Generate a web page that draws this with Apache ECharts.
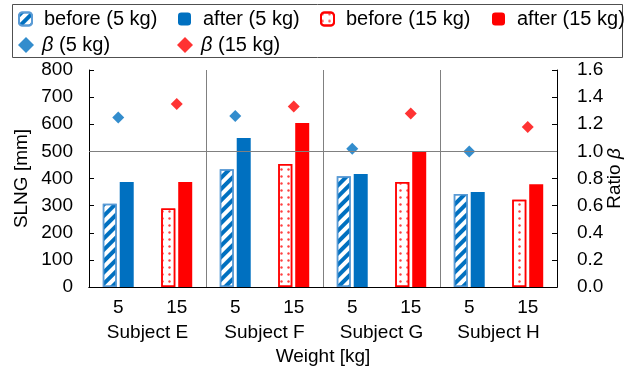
<!DOCTYPE html>
<html><head><meta charset="utf-8">
<script src="https://cdn.jsdelivr.net/npm/echarts@6/dist/echarts.min.js"></script>
<style>html,body{margin:0;padding:0;background:#fff}#c{width:625px;height:369px}</style>
</head><body><div id="c"></div>
<script>
const subjects = ['Subject E', 'Subject F', 'Subject G', 'Subject H'];
const weights = ['5', '15'];
const before5 = [307, 434, 408, 343];
const after5 = [387, 549, 417, 350];
const before15 = [289, 453, 387, 322];
const after15 = [387, 605, 498, 379];
const beta5 = [1.25, 1.26, 1.02, 1.00];
const beta15 = [1.35, 1.33, 1.28, 1.18];
const names = ['before (5 kg)', 'after (5 kg)', 'before (15 kg)', 'after (15 kg)', 'β (5 kg)', 'β (15 kg)'];

const cats = [];
subjects.forEach(s => weights.forEach(w => cats.push(s + '|' + w)));
function expand(arr, wi) {
  const out = [];
  arr.forEach(v => { weights.forEach((w, j) => out.push(j === wi ? v : null)); });
  return out;
}
const BLUE = '#0070c0', RED = '#ff0000', FONT = 'Liberation Sans';
const axisFont = { fontFamily: FONT, fontSize: 19, color: '#000' };

const chart = echarts.init(document.getElementById('c'), null, { renderer: 'canvas' });
function leg(name, left, top, iw, ih, pad) {
  return {
    data: [name], left: left, top: top, padding: 0, itemWidth: iw, itemHeight: ih, itemGap: 0,
    selectedMode: false,
    formatter: n => n.indexOf('β') === 0 ? '{i|β}' + n.slice(1) : n,
    textStyle: { fontFamily: FONT, fontSize: 20, color: '#000', padding: [0, 0, 0, pad],
      rich: { i: { fontFamily: FONT, fontSize: 20, fontStyle: 'italic', color: '#000' } } }
  };
}
chart.setOption({
  animation: false,
  graphic: [{ type: 'rect', shape: { x: 12.5, y: 4.5, width: 610, height: 53 },
    style: { fill: 'none', stroke: '#505050', lineWidth: 1 }, z: 0 }],
  legend: [
    leg(names[0], 18, 9, 13, 13, 7),
    leg(names[1], 178, 9, 13, 13, 7),
    leg(names[2], 320, 9, 13, 13, 7),
    leg(names[3], 492, 9, 13, 13, 7),
    leg(names[4], 18, 35, 16, 16, 3),
    leg(names[5], 177, 35, 16, 16, 3)
  ],
  grid: { left: 89, right: 68, top: 70, bottom: 82, containLabel: false, outerBoundsMode: 'none' },
  xAxis: [{
    type: 'category', data: cats, position: 'bottom',
    axisLine: { lineStyle: { color: '#000' } },
    axisTick: { length: 26, lineStyle: { color: '#000' } },
    axisLabel: Object.assign({ margin: 11, formatter: v => v.split('|')[1] }, axisFont),
    splitLine: { show: false }
  }, {
    type: 'category', data: subjects, position: 'bottom',
    axisLine: { lineStyle: { color: '#000' } },
    axisTick: { length: 52, lineStyle: { color: '#000' } },
    axisLabel: Object.assign({ margin: 36 }, axisFont),
    splitLine: { show: true, lineStyle: { color: '#808080', width: 1 } },
    name: 'Weight [kg]', nameLocation: 'middle', nameGap: 60, nameMoveOverlap: false,
    nameTextStyle: axisFont
  }],
  yAxis: [{
    type: 'value', min: 0, max: 800, interval: 100, position: 'left',
    axisLine: { show: true, lineStyle: { color: '#000' } },
    axisTick: { show: true, inside: true, length: 5, lineStyle: { color: '#000' } },
    axisLabel: Object.assign({ margin: 16 }, axisFont),
    splitLine: { show: false },
    name: 'SLNG [mm]', nameLocation: 'middle', nameGap: 58, nameMoveOverlap: false, nameTextStyle: axisFont
  }, {
    type: 'value', min: 0, max: 1.6, interval: 0.2, position: 'right',
    axisLine: { show: true, lineStyle: { color: '#000' } },
    axisTick: { show: true, inside: true, length: 5, lineStyle: { color: '#000' } },
    axisLabel: Object.assign({ margin: 20, formatter: v => v.toFixed(1) }, axisFont),
    splitLine: { show: false },
    name: '{n|Ratio }{i|β}', nameLocation: 'middle', nameGap: 48, nameMoveOverlap: false,
    nameTextStyle: Object.assign({ rich: { n: axisFont, i: Object.assign({ fontStyle: 'italic' }, axisFont) } }, axisFont)
  }],
  series: [{
    name: names[0], type: 'bar', stack: 'b', barWidth: 14, barGap: '21%',
    data: expand(before5, 0),
    itemStyle: { color: '#ffffff', borderColor: '#5b9bd5', borderWidth: 1.5,
      decal: { symbol: 'rect', symbolSize: 1, color: BLUE, dashArrayX: [1, 0], dashArrayY: [4, 4], rotation: -Math.PI / 4 } }
  }, {
    name: names[1], type: 'bar', stack: 'a', barWidth: 14, barGap: '21%',
    data: expand(after5, 0), itemStyle: { color: BLUE },
    markLine: { silent: true, symbol: 'none', label: { show: false },
      lineStyle: { color: '#808080', type: 'solid', width: 1 }, data: [{ yAxis: 500 }] }
  }, {
    name: names[2], type: 'bar', stack: 'b', barWidth: 14, barGap: '21%',
    data: expand(before15, 1),
    itemStyle: { color: '#ffffff', borderColor: RED, borderWidth: 1.5,
      decal: { symbol: 'circle', symbolSize: 0.8, color: '#ff4040', dashArrayX: [3, 4], dashArrayY: [3, 4] } }
  }, {
    name: names[3], type: 'bar', stack: 'a', barWidth: 14, barGap: '21%',
    data: expand(after15, 1), itemStyle: { color: RED }
  }, {
    name: names[4], type: 'scatter', yAxisIndex: 1, symbol: 'diamond', symbolSize: 12,
    data: expand(beta5, 0), itemStyle: { color: BLUE }
  }, {
    name: names[5], type: 'scatter', yAxisIndex: 1, symbol: 'diamond', symbolSize: 12,
    data: expand(beta15, 1), itemStyle: { color: RED }
  }]
});
</script></body></html>
